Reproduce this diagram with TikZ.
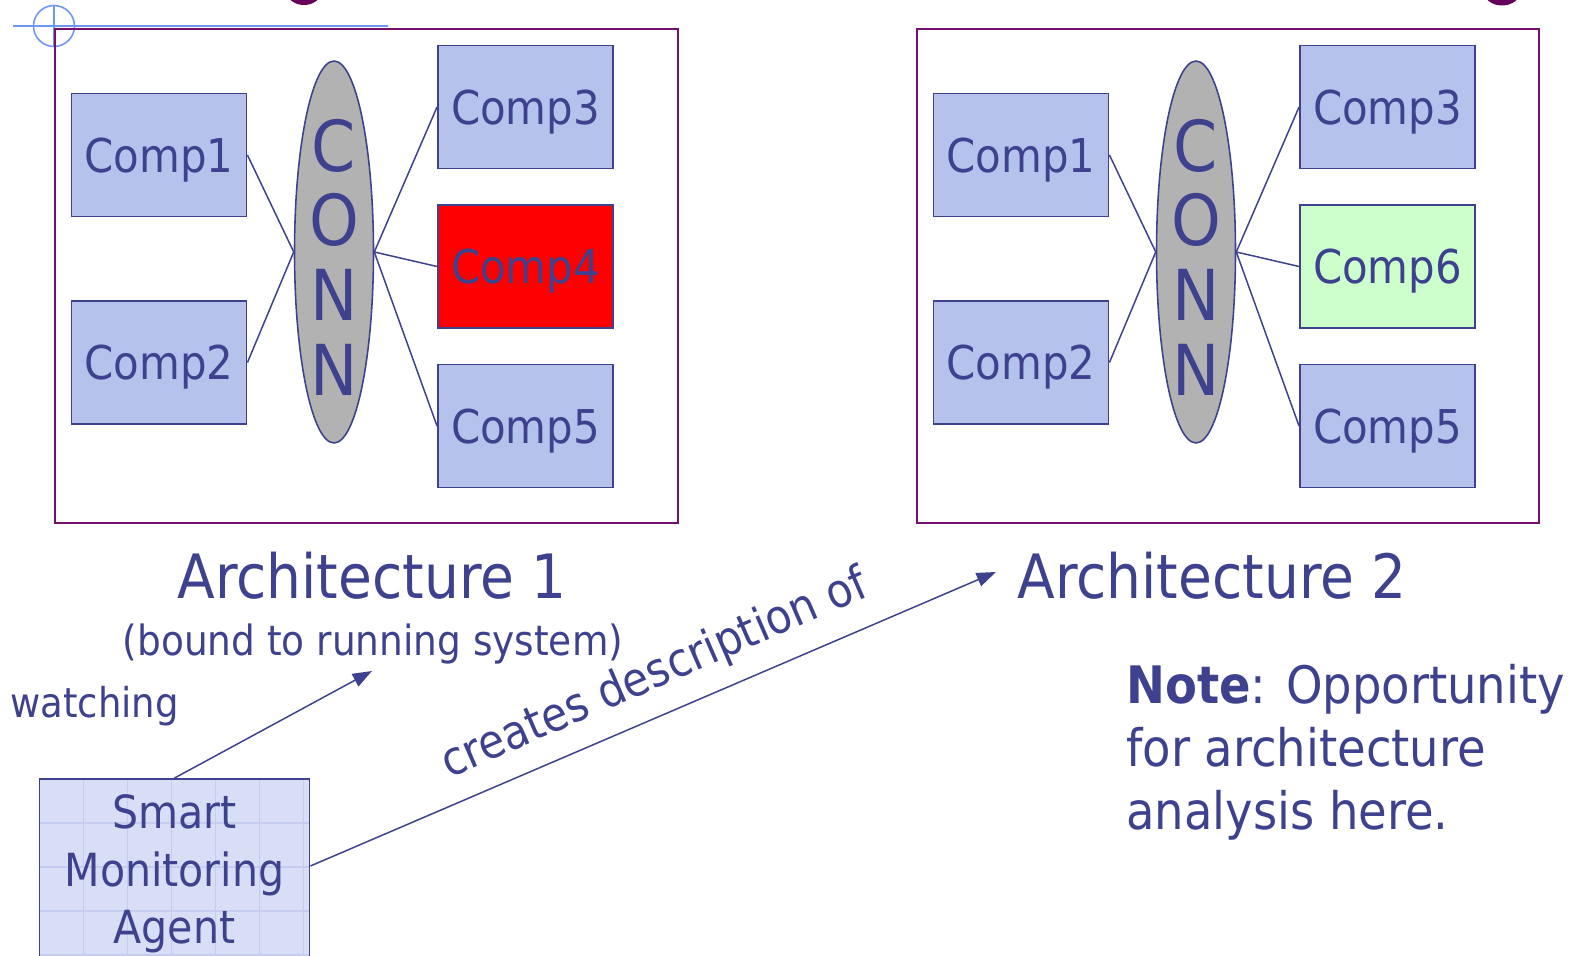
\documentclass[tikz,border=0pt]{standalone}
\usepackage{fontspec}
\setmainfont{DejaVu Sans Condensed}
\usetikzlibrary{shapes.geometric,arrows.meta}
\definecolor{navy}{RGB}{62,66,142}
\definecolor{compblue}{RGB}{181,194,236}
\definecolor{compgreen}{RGB}{204,255,204}
\definecolor{conngray}{RGB}{178,178,178}
\definecolor{framepurple}{RGB}{118,16,110}
\definecolor{titlepurple}{RGB}{100,0,90}
\definecolor{guideblue}{RGB}{110,150,245}
\definecolor{agentfill}{RGB}{216,222,246}
\definecolor{agentgrid}{RGB}{196,204,240}
\begin{document}
\begin{tikzpicture}[x=0.02cm, y=-0.02cm,
    comp/.style = {shape=rectangle, draw=navy, line width=1.1pt, fill=compblue, minimum width=3.5cm, minimum height=2.46cm, text depth=0pt, text=navy, font=\fontsize{26.5}{30}\selectfont},
    conn/.style = {shape=ellipse, draw=navy, line width=0.9pt, fill=conngray, minimum width=1.58cm, minimum height=7.64cm},
    connlbl/.style = {align=center, text=navy, inner sep=0pt, font=\fontsize{40}{42.5}\selectfont},
    frame/.style = {draw=framepurple, line width=1.1pt},
    wire/.style = {draw=navy, line width=0.85pt},
    arrow/.style = {wire, -{Triangle[length=11pt,width=8pt]}},
    lbl/.style = {text=navy, inner sep=0pt}]
  \clip (0,0) rectangle (1572,956);
  % bits of the title and the guide mark
  \fill[titlepurple] (304,-10) ellipse [x radius=18, y radius=15];
  \fill[titlepurple] (1502,-10) ellipse [x radius=19, y radius=15.5];
  \draw[guideblue, line width=0.9pt] (13,26) -- (388,26) (54,5) -- (54,47) (54,26) circle [radius=20.5];
  % architecture 1
  \draw[frame] (55,29) rectangle (678,523);
  \node[comp] (a1) at (159,155) {Comp1};
  \node[comp] (a2) at (159,362.5) {Comp2};
  \node[conn] (aconn) at (334,252) {};
  \node[connlbl] (aconnlbl) at (334,257) {C\\O\\N\\N};
  \node[comp] (a3) at (525.5,107) {Comp3};
  \node[comp, fill=red] (a4) at (525.5,266.5) {Comp4};
  \node[comp] (a5) at (525.5,426) {Comp5};
  \draw[wire] (a1.east) -- (aconn.west) -- (a2.east);
  \draw[wire] (a3.west) -- (aconn.east) -- (a5.west);
  \draw[wire] (aconn.east) -- (a4.west);
  % architecture 2
  \draw[frame] (917,29) rectangle (1539,523);
  \node[comp] (b1) at (1021,155) {Comp1};
  \node[comp] (b2) at (1021,362.5) {Comp2};
  \node[conn] (bconn) at (1196,252) {};
  \node[connlbl] (bconnlbl) at (1196,257) {C\\O\\N\\N};
  \node[comp] (b3) at (1387.5,107) {Comp3};
  \node[comp, fill=compgreen] (b6) at (1387.5,266.5) {Comp6};
  \node[comp] (b5) at (1387.5,426) {Comp5};
  \draw[wire] (b1.east) -- (bconn.west) -- (b2.east);
  \draw[wire] (b3.west) -- (bconn.east) -- (b5.west);
  \draw[wire] (bconn.east) -- (b6.west);
  % labels
  \node[lbl, anchor=base, font=\fontsize{34.8}{40}\selectfont] (arch1) at (372,598) {Architecture 1};
  \node[lbl, anchor=base, font=\fontsize{23.7}{28}\selectfont] (bound) at (373,655) {(bound to running system)};
  \node[lbl, anchor=base, font=\fontsize{34.8}{40}\selectfont] (arch2) at (1212,598) {Architecture 2};
  \node[lbl, anchor=base west, font=\fontsize{23.4}{28}\selectfont] (watching) at (10,717) {watching};
  \node[lbl, anchor=north west, align=left, font=\fontsize{29.4}{35.7}\selectfont] (note) at (1126,664) {\textbf{Note}: Opportunity\\for architecture\\analysis here.};
  % the agent
  \node[comp, fill=agentfill, minimum width=5.4cm, minimum height=3.8cm, text depth=, align=center, font=\fontsize{26}{32.6}\selectfont,
    path picture={
      \foreach \i in {1,...,6}
        \draw[agentgrid, line width=0.6pt] ([xshift=\i*0.88cm]path picture bounding box.north west) -- ([xshift=\i*0.88cm]path picture bounding box.south west);
      \foreach \j in {1,...,4}
        \draw[agentgrid, line width=0.6pt] ([yshift=-\j*0.88cm]path picture bounding box.north west) -- ([yshift=-\j*0.88cm]path picture bounding box.north east);
    }] (agent) at (174.5,874) {Smart\\Monitoring\\Agent};
  \coordinate (watchtip) at (372,671);
  \coordinate (desctip) at (996,572);
  \draw[arrow] (agent.north) -- (watchtip);
  \draw[arrow] ([yshift=0.16cm]agent.east) -- (desctip);
  \node[lbl, rotate=23.5, font=\fontsize{26.8}{30}\selectfont] (creates) at (655,675) {creates description of};
\end{tikzpicture}
\end{document}
